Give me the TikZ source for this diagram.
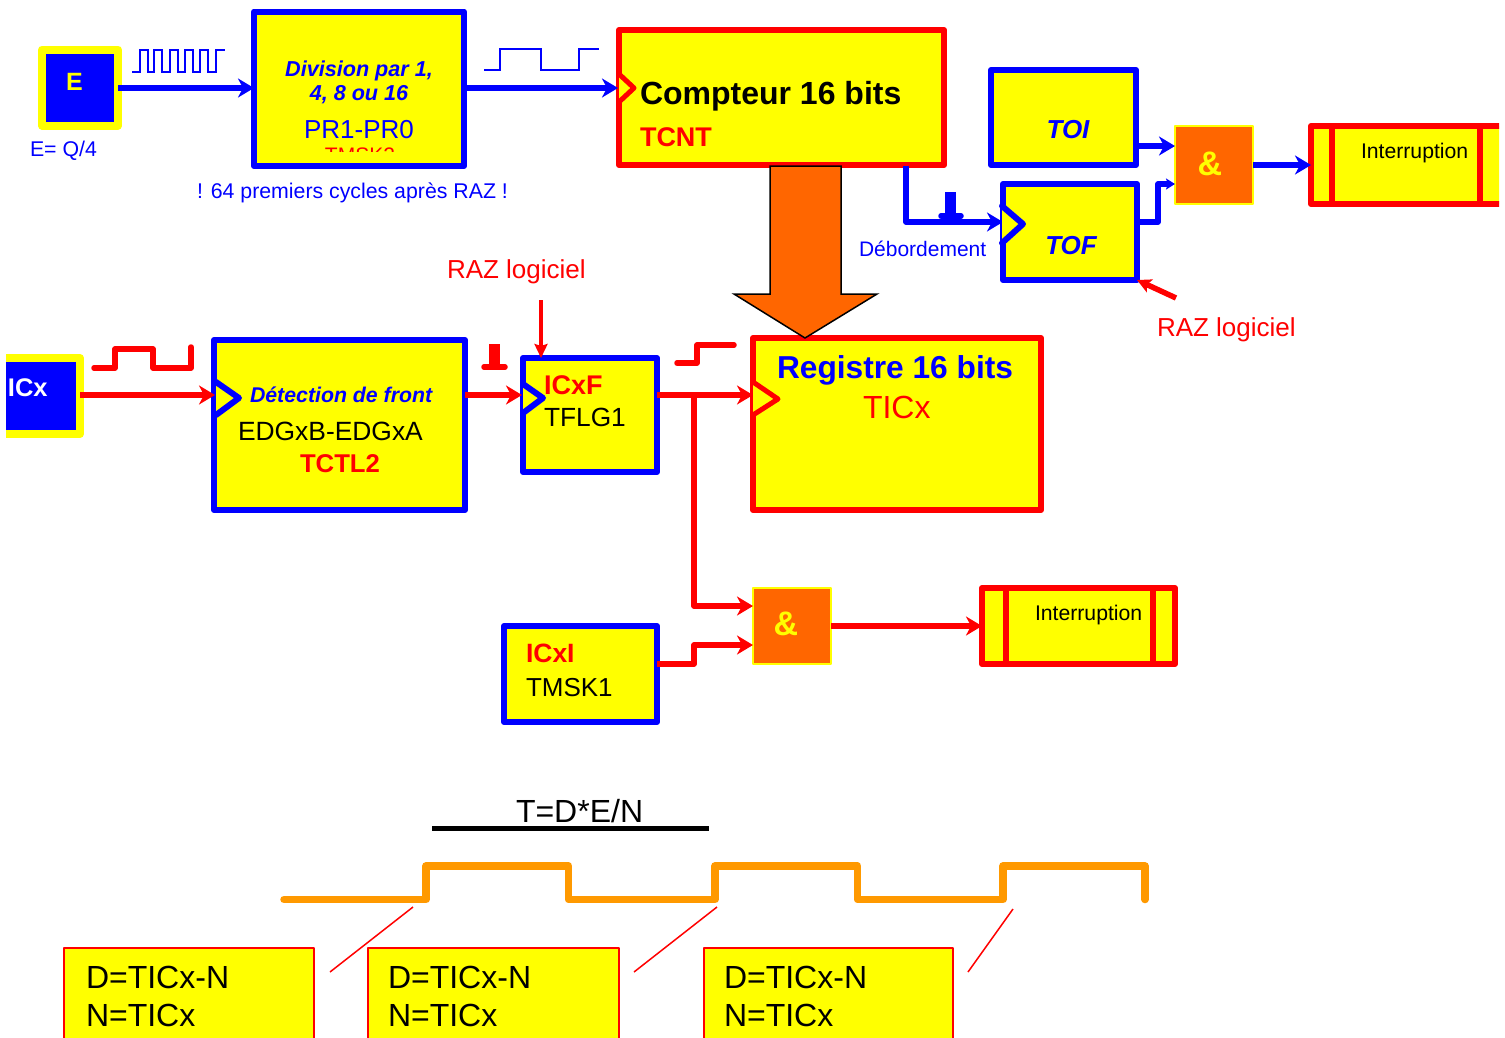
\documentclass[tikz,border=0pt]{standalone}
\usepackage{fontspec}
\setmainfont{Liberation Sans}
\usetikzlibrary{arrows.meta}
\definecolor{yellow}{RGB}{255,255,0}
\definecolor{blue}{RGB}{0,0,255}
\definecolor{red}{RGB}{255,0,0}
\definecolor{myorange}{HTML}{FF6600}
\definecolor{wave}{HTML}{FF9900}
\newcommand{\fsz}[1]{\fontsize{#1}{#1}\selectfont}
\tikzset{
  x=1pt,y=-1pt,
  anybox/.style={inner sep=0pt,outer sep=0pt,line join=round},
  bluebox/.style={anybox,draw=blue,fill=yellow,line width=6pt},
  redbox/.style={anybox,draw=red,fill=yellow,line width=6pt},
  srcbox/.style={anybox,draw=yellow,fill=blue,line width=8pt},
  andbox/.style={anybox,draw=yellow,fill=myorange,line width=2pt},
  resbox/.style={anybox,draw=red,fill=yellow,line width=2pt},
  lbl/.style={inner sep=0pt,outer sep=0pt,anchor=base west},
  lblc/.style={inner sep=0pt,outer sep=0pt,anchor=base},
  bigtip/.style={-{Stealth[length=16pt,width=19pt,inset=5pt]}},
  smalltip/.style={-{Stealth[length=9pt,width=11pt,inset=2pt]}},
  bw/.style={draw=blue,line width=5.5pt,line join=round},
  rw/.style={draw=red,line width=5.5pt,line join=round},
  clockb/.style={draw=blue,fill=yellow,line width=6pt,line join=round,line cap=round},
  clockr/.style={draw=red,fill=yellow,line width=5pt,line join=round,line cap=round},
}
\begin{document}
\begin{tikzpicture}
\clip (0,0) rectangle (1505,1037);
\useasboundingbox (0,0) rectangle (1505,1037);
% boxes
\node[srcbox,minimum width=76pt,minimum height=76pt] (E) at (80,87.5) {};
\node[bluebox,minimum width=210pt,minimum height=154.5pt] (Div) at (359,88.75) {};
\node[redbox,minimum width=325pt,minimum height=135pt] (Cpt) at (781.5,97.5) {};
\node[bluebox,minimum width=145pt,minimum height=95pt] (TOI) at (1063.5,117.5) {};
\node[bluebox,minimum width=134pt,minimum height=96pt] (TOF) at (1070,232) {};
\node[andbox,minimum width=78pt,minimum height=78pt] (AndT) at (1214,165) {};
\begin{scope}
\clip (1250,100) rectangle (1499,230);
\node[redbox,minimum width=209pt,minimum height=78pt] (IntT) at (1415.5,165) {};
\draw[red,line width=6pt] (1332,126) -- (1332,204) (1480,126) -- (1480,204);
\end{scope}
\node[redbox,minimum width=288pt,minimum height=172pt] (Reg) at (897,424) {};
\node[bluebox,minimum width=251pt,minimum height=170pt] (Det) at (339.5,425) {};
\node[bluebox,minimum width=134pt,minimum height=114pt] (FlagF) at (590,415) {};
\begin{scope}
\clip (6,340) rectangle (100,450);
\node[srcbox,minimum width=80pt,minimum height=76pt] (ICx) at (40,396) {};
\end{scope}
\node[bluebox,minimum width=153pt,minimum height=96pt] (FlagI) at (580.5,674) {};
\node[andbox,minimum width=78pt,minimum height=76pt] (AndB) at (792,626) {};
\node[redbox,minimum width=193pt,minimum height=76pt] (IntB) at (1078.5,626) {};
\draw[red,line width=6pt] (1006,588) -- (1006,664) (1153,588) -- (1153,664);
\node[resbox,minimum width=250pt,minimum height=112pt] (R1) at (189,1004) {};
\node[resbox,minimum width=251pt,minimum height=112pt] (R2) at (493.5,1004) {};
\node[resbox,minimum width=249pt,minimum height=112pt] (R3) at (828.5,1004) {};
% named connection points
\coordinate (cCpt) at (618,88);
\coordinate (cTOF) at (1003,222);
\coordinate (cDet) at (215,395);
\coordinate (cF) at (522,395);
\coordinate (cReg) at (753,395);
\coordinate (j) at (694,395);
\coordinate (andA) at (1175,146);
\coordinate (andB) at (1175,184);
\coordinate (andC) at (753,606);
\coordinate (andD) at (753,645);
\coordinate (ovf) at (906,166);
\coordinate (raz1) at (541,300);
\coordinate (raz2) at (1176,298);
% connectors
\draw[bw,bigtip] (E.east |- 0,88) -- (Div.west |- 0,88);
\draw[bw,bigtip] (Div.east |- cCpt) -- (cCpt);
\draw[bw,bigtip] (ovf) -- (ovf |- cTOF) -- (cTOF);
\draw[bw,bigtip] (TOI.east |- andA) -- (andA);
\draw[bw,smalltip] (TOF.east |- 0,222) -- (1158,222) -- (1158,184) -- (andB);
\draw[bw,bigtip] (AndT.east) -- (IntT.west);
\draw[rw,bigtip] (ICx.east |- cDet) -- (cDet);
\draw[rw,bigtip] (Det.east |- cF) -- (cF);
\draw[rw,bigtip] (FlagF.east |- cReg) -- (cReg);
\draw[rw,bigtip] (j) -- (j |- andC) -- (andC);
\draw[rw,bigtip] (FlagI.east |- 0,664) -- (694,664) -- (694,645) -- (andD);
\draw[rw,bigtip] (AndB.east) -- (IntB.west);
\draw[red,line width=4.5pt,-{Stealth[length=14pt,width=13pt,inset=2pt]}] (raz1) -- (raz1 |- FlagF.north);
\draw[rw,-{Stealth[length=14pt,width=14pt,inset=3pt]}] (raz2) -- (TOF.south east);
% clock marks
\draw[clockr] (619,74) -- (634,88) -- (619,102);
\draw[clockb] (1002,206) -- (1023,224) -- (1002,243);
\draw[clockb] (216,382) -- (239,398) -- (216,415);
\draw[clockb] (523,384) -- (543,398) -- (523,413);
\draw[clockr] (753,382) -- (778,399) -- (753,415);
% big arrow
\draw[fill=myorange,draw=black,line width=1.5pt,line join=miter] (770,166) -- (841,166) -- (841,294) -- (877,294) -- (805,338) -- (734,294) -- (770,294) -- cycle;
% wave forms
\draw[blue,line width=2pt] (132,72) -- (139.5,72) -- (139.5,49.5) -- (148,49.5) -- (148,72) -- (154,72) -- (154,49.5) -- (162,49.5) -- (162,72) -- (169.5,72) -- (169.5,49.5) -- (177.5,49.5) -- (177.5,72) -- (185,72) -- (185,49.5) -- (193,49.5) -- (193,72) -- (200,72) -- (200,49.5) -- (208,49.5) -- (208,72) -- (216,72) -- (216,49.5) -- (225,49.5);
\draw[blue,line width=2pt] (484,70) -- (500,70) -- (500,49) -- (541,49) -- (541,70) -- (579,70) -- (579,49) -- (599,49);
\draw[red,line width=5.5pt,line cap=round,line join=round] (94,368) -- (115,368) -- (115,349) -- (153,349) -- (153,368) -- (191,368) -- (191,347);
\draw[red,line width=5.5pt,line cap=round] (484,367) -- (505,367);
\draw[red,line width=11pt] (494,344) -- (494,367);
\draw[red,line width=5.5pt,line cap=round,line join=round] (677,363) -- (697,363) -- (697,345) -- (734,345);
\draw[blue,line width=5.5pt,line cap=round] (941,216) -- (961,216);
\draw[blue,line width=11pt] (950,192) -- (950,216);
% timing diagram
\draw[wave,line width=7.5pt,line cap=round,line join=round] (284,899.5) -- (426,899.5) -- (426,866) -- (568.5,866) -- (568.5,899.5) -- (715,899.5) -- (715,866) -- (857.5,866) -- (857.5,899.5) -- (1003,899.5) -- (1003,866) -- (1145,866) -- (1145,899.5);
\draw[black,line width=5pt] (432,828) -- (709,828);
\draw[red,line width=1.5pt] (330,972) -- (413,907);
\draw[red,line width=1.5pt] (634,972) -- (717,907);
\draw[red,line width=1.5pt] (968,972) -- (1013,909);
% texts
\node[lblc,text=yellow,font=\fsz{25}\bfseries] (tE) at (74.5,90) {E};
\node[lbl,text=blue,font=\fsz{21.3}] (tEq) at (30,156) {E= Q/4};
\node[lblc,text=blue,font=\fsz{21.6}\bfseries\itshape] (tDiv1) at (359,76) {Division par 1,};
\node[lblc,text=blue,font=\fsz{21.6}\bfseries\itshape] (tDiv2) at (359,100) {4, 8 ou 16};
\node[lblc,text=blue,font=\fsz{26}] (tPR) at (359,138) {PR1-PR0};
\begin{scope}
\clip (300,140) rectangle (420,151);
\node[lblc,text=red,font=\fsz{21}] (tTM) at (360,162) {TMSK2};
\end{scope}
\node[lbl,text=blue,font=\fsz{21.3}] (t64) at (197,198) {! 64 premiers cycles après RAZ !};
\node[lbl,font=\fsz{32}\bfseries] (tC) at (640,104) {Compteur 16 bits};
\node[lbl,text=red,font=\fsz{27}\bfseries] (tT) at (640,146) {TCNT};
\node[lblc,text=blue,font=\fsz{26}\bfseries\itshape] (tTOI) at (1068,138) {TOI};
\node[lblc,text=blue,font=\fsz{26}\bfseries\itshape] (tTOF) at (1071,254) {TOF};
\node[lblc,text=yellow,font=\fsz{34}\bfseries] (tA1) at (1210,175) {\&};
\node[lbl,font=\fsz{21.2}] (tI1) at (1361,158) {Interruption};
\node[lbl,text=blue,font=\fsz{21}] (tD) at (859,256) {Débordement};
\node[lbl,text=red,font=\fsz{26}] (tR1) at (447,278) {RAZ logiciel};
\node[lbl,text=red,font=\fsz{26}] (tR2) at (1157,336) {RAZ logiciel};
\node[lbl,text=white,font=\fsz{25.5}\bfseries] (tICx) at (8,396) {ICx};
\node[lbl,text=blue,font=\fsz{21.3}\bfseries\itshape] (tDet) at (250,402) {Détection de front};
\node[lbl,font=\fsz{26.4}] (tEDG) at (238,440) {EDGxB-EDGxA};
\node[lbl,text=red,font=\fsz{25.7}\bfseries] (tTC) at (300,472) {TCTL2};
\node[lbl,text=red,font=\fsz{27}\bfseries] (tF) at (544,394) {ICxF};
\node[lbl,font=\fsz{26.3}] (tFL) at (544,426) {TFLG1};
\node[lbl,text=blue,font=\fsz{31.7}\bfseries] (tReg) at (777,378) {Registre 16 bits};
\node[lbl,text=red,font=\fsz{32}] (tTI) at (863,418) {TICx};
\node[lbl,text=red,font=\fsz{26.5}\bfseries] (tI) at (526,662) {ICxI};
\node[lbl,font=\fsz{26}] (tTM1) at (526,696) {TMSK1};
\node[lblc,text=yellow,font=\fsz{34}\bfseries] (tA2) at (786,635) {\&};
\node[lbl,font=\fsz{21.2}] (tI2) at (1035,620) {Interruption};
\node[lbl,font=\fsz{32}] (tForm) at (516,822) {T=D*E/N};
\foreach \n/\x in {a/86,b/388,c/724}{
  \node[lbl,font=\fsz{32}] (tD\n) at (\x,988) {D=TICx-N};
  \node[lbl,font=\fsz{32}] (tN\n) at (\x,1026) {N=TICx};
}
\end{tikzpicture}
\end{document}
